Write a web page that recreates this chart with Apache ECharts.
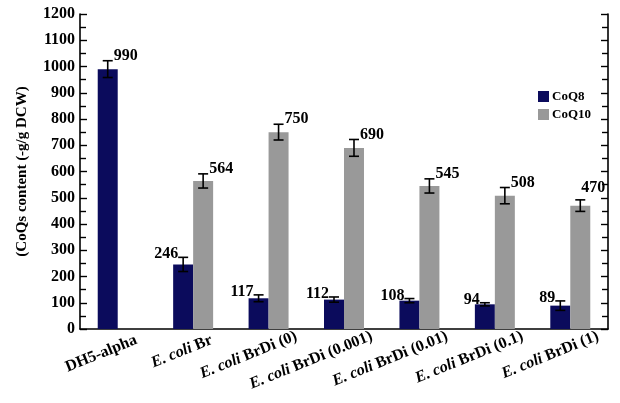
<!DOCTYPE html>
<html>
<head>
<meta charset="utf-8">
<script src="https://cdn.jsdelivr.net/npm/echarts@6/dist/echarts.min.js"></script>
<style>html,body{margin:0;padding:0;background:#fff;}#c{width:620px;height:403px;}</style>
</head>
<body>
<div id="c"></div>
<script>
var categories = ['DH5-alpha', 'E. coli Br', 'E. coli BrDi (0)', 'E. coli BrDi (0.001)', 'E. coli BrDi (0.01)', 'E. coli BrDi (0.1)', 'E. coli BrDi (1)'];
var coq8 = [990, 246, 117, 112, 108, 94, 89];
var coq10 = [null, 564, 750, 690, 545, 508, 470];
var coq8Err = [32, 27, 13, 10, 8, 6, 18];
var coq10Err = [null, 27, 30, 32, 27, 31, 22];
var yTicks = [0, 100, 200, 300, 400, 500, 600, 700, 800, 900, 1000, 1100, 1200];

var FONT = '"Liberation Serif", "Times New Roman", serif';
var NAVY = '#0b0b5c';
var GRAY = '#999999';
var GAP = 0.47;

var errData = [];
for (var i = 0; i < categories.length; i++) {
  if (coq8[i] != null) errData.push([i, coq8[i], coq8Err[i], 0]);
  if (coq10[i] != null) errData.push([i, coq10[i], coq10Err[i], 1]);
}

function renderErr(params, api) {
  var ci = api.value(0), v = api.value(1), e = api.value(2), s = api.value(3);
  var band = api.size([1, 0])[0];
  var bw = band * (1 - GAP) / 2;
  var c = api.coord([ci, v]);
  var x = c[0] + (s === 0 ? -bw / 2 : bw / 2);
  var hasPair = coq10[ci] != null && coq8[ci] != null;
  var top = api.coord([ci, v + e])[1];
  var bot = api.coord([ci, v - e])[1];
  var cap = 5;
  var st = { stroke: '#000', lineWidth: 1.6 };
  var children = [
    { type: 'line', shape: { x1: x, y1: top, x2: x, y2: bot }, style: st },
    { type: 'line', shape: { x1: x - cap, y1: top, x2: x + cap, y2: top }, style: st },
    { type: 'line', shape: { x1: x - cap, y1: bot, x2: x + cap, y2: bot }, style: st }
  ];
  var lx, ly, align, va = 'middle';
  var lastCat = ci === categories.length - 1;
  if (s === 0 && hasPair) { lx = x - 5; ly = top - 3; align = 'right'; }
  else if (lastCat) { lx = x + 1; ly = top - 4; align = 'left'; va = 'bottom'; }
  else { lx = x + 6; ly = top - 5; align = 'left'; }
  children.push({
    type: 'text',
    style: { text: String(v), x: lx, y: ly, align: align, verticalAlign: va,
             font: 'bold 16px ' + FONT, fill: '#000' }
  });
  return { type: 'group', children: children };
}

var chart = echarts.init(document.getElementById('c'), null, { renderer: 'canvas' });
chart.setOption({
  animation: false,
  backgroundColor: '#fff',
  grid: { left: 80, right: 12, top: 14, bottom: 74, containLabel: false },
  legend: {
    data: ['CoQ8', 'CoQ10'], orient: 'vertical', left: 533, top: 85,
    itemWidth: 11, itemHeight: 11, itemGap: 5, icon: 'rect',
    textStyle: { fontFamily: FONT, fontWeight: 'bold', fontSize: 13, color: '#000', padding: [0, 0, 0, -2] }
  },
  xAxis: {
    type: 'category', data: categories,
    axisLine: { lineStyle: { color: '#000', width: 1.6 } },
    axisTick: { show: false },
    axisLabel: {
      interval: 0, rotate: 22, margin: 18, color: '#000',
      fontFamily: FONT, fontWeight: 'bold', fontSize: 16,
      padding: [0, -30, 0, 0],
      formatter: function (v) {
        if (v.indexOf('E. coli BrDi') === 0) return '{i|E. coli}' + v.slice(7);
        if (v.indexOf('E. coli') === 0) return '{i|E. coli}' + v.slice(7) + '{s| }';
        return v + '{s| }';
      },
      rich: {
        i: { fontStyle: 'italic', fontFamily: FONT, fontWeight: 'bold', fontSize: 16, color: '#000' },
        s: { width: 10, fontSize: 16 }
      }
    }
  },
  yAxis: [{
    type: 'value', min: yTicks[0], max: yTicks[yTicks.length - 1], interval: 100,
    name: '(CoQs content (-g/g DCW)', nameLocation: 'middle', nameGap: 50, nameRotate: 90,
    nameTextStyle: { fontFamily: FONT, fontWeight: 'bold', fontSize: 15, color: '#000' },
    axisLine: { show: true, lineStyle: { color: '#000', width: 1.6 } },
    axisTick: { show: true, inside: true, length: 7, lineStyle: { color: '#000', width: 1.4 } },
    minorTick: { show: true, splitNumber: 2, length: 6, lineStyle: { color: '#000', width: 1.4 } },
    splitLine: { show: false },
    axisLabel: { margin: 5, color: '#000', fontFamily: FONT, fontWeight: 'bold', fontSize: 16,
      formatter: function (v) { return String(v); } }
  }, {
    type: 'value', position: 'right', min: yTicks[0], max: yTicks[yTicks.length - 1], interval: 100,
    axisLine: { show: true, lineStyle: { color: '#000', width: 1.6 } },
    axisTick: { show: true, inside: true, length: 7, lineStyle: { color: '#000', width: 1.4 } },
    minorTick: { show: true, splitNumber: 2, length: 6, lineStyle: { color: '#000', width: 1.4 } },
    splitLine: { show: false },
    axisLabel: { show: false }
  }],
  series: [
    { name: 'CoQ8', type: 'bar', data: coq8, itemStyle: { color: NAVY },
      barGap: '0%', barCategoryGap: (GAP * 100) + '%' },
    { name: 'CoQ10', type: 'bar', data: coq10.map(function (v) { return v == null ? '-' : v; }),
      itemStyle: { color: GRAY }, barGap: '0%', barCategoryGap: (GAP * 100) + '%' },
    { name: 'err', type: 'custom', data: errData, renderItem: renderErr, z: 10,
      encode: { x: 0, y: 1 } }
  ]
});
</script>
</body>
</html>
